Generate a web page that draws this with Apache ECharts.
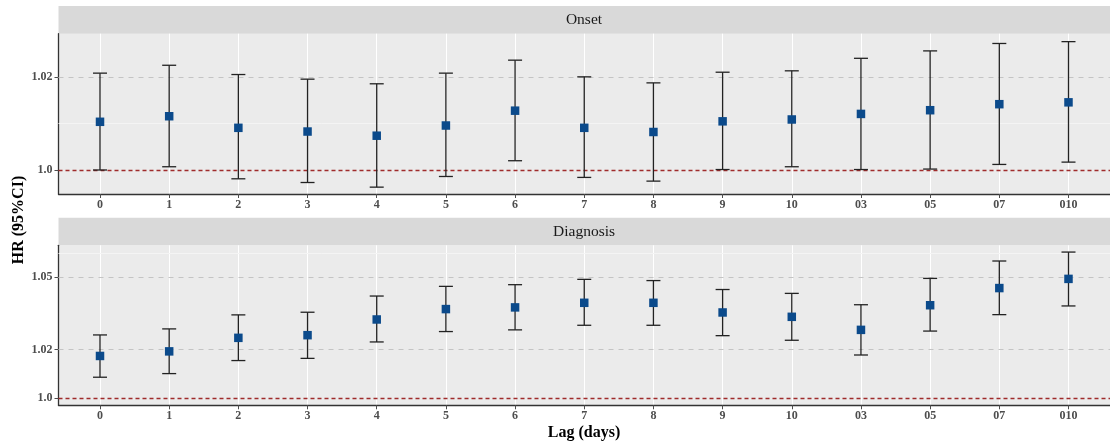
<!DOCTYPE html>
<html>
<head>
<meta charset="utf-8">
<script src="https://cdn.jsdelivr.net/npm/echarts@6/dist/echarts.min.js"></script>
<style>
html,body{margin:0;padding:0;background:#fff;}
#chart{width:1110px;height:447px;}
</style>
</head>
<body>
<div id="chart"></div>
<script>
// ---- data ----
var categories = ['0','1','2','3','4','5','6','7','8','9','10','03','05','07','010'];

var onsetHR = [1.0104, 1.0116, 1.0091, 1.0083, 1.0074, 1.0096, 1.0128, 1.0091, 1.0082, 1.0105, 1.0109, 1.0121, 1.0129, 1.0142, 1.0146];
var onsetLo = [1.0000, 1.0007, 0.9981, 0.9973, 0.9963, 0.9986, 1.0020, 0.9984, 0.9976, 1.0001, 1.0007, 1.0001, 1.0002, 1.0012, 1.0017];
var onsetHi = [1.0209, 1.0226, 1.0206, 1.0196, 1.0186, 1.0209, 1.0237, 1.0201, 1.0188, 1.0211, 1.0214, 1.0241, 1.0257, 1.0273, 1.0277];

var diagHR = [1.0174, 1.0193, 1.0249, 1.0260, 1.0325, 1.0368, 1.0375, 1.0394, 1.0394, 1.0354, 1.0336, 1.0282, 1.0384, 1.0455, 1.0493];
var diagLo = [1.0086, 1.0101, 1.0155, 1.0164, 1.0232, 1.0275, 1.0282, 1.0301, 1.0301, 1.0258, 1.0239, 1.0178, 1.0277, 1.0345, 1.0381];
var diagHi = [1.0261, 1.0286, 1.0344, 1.0355, 1.0422, 1.0462, 1.0469, 1.0491, 1.0486, 1.0449, 1.0433, 1.0386, 1.0495, 1.0567, 1.0604];

var onsetTicks = [1.0, 1.02];
var onsetTickLabels = ['1.0', '1.02'];
var diagTicks = [1.0, 1.02, 1.05];
var diagTickLabels = ['1.0', '1.02', '1.05'];

var panelTitles = ['Onset', 'Diagnosis'];
var refValue = 1.0;
var onsetMinor = [1.01];
var diagMinor = [1.0605];

// ---- chart ----
var FONT = '"Liberation Serif", "Times New Roman", serif';
var chart = echarts.init(document.getElementById('chart'), null, {renderer: 'canvas'});

var idx = categories.map(function (c, i) { return i; });

function xAxisDef(gridIndex) {
  return {
    type: 'value', gridIndex: gridIndex, min: -0.6, max: 14.6,
    axisLine: {show: true, onZero: false, lineStyle: {color: '#333333', width: 1.3}},
    axisTick: {show: true, length: 4, customValues: idx, lineStyle: {color: '#4d4d4d', width: 1}},
    axisLabel: {
      customValues: idx, margin: 5, fontFamily: FONT, fontWeight: 'bold', fontSize: 12, color: '#4d4d4d',
      formatter: function (v) { return categories[Math.round(v)]; }
    },
    splitLine: {show: true, lineStyle: {color: '#ffffff', width: 1.1}}
  };
}
function yAxisDef(gridIndex, min, max, ticks, labels) {
  return {
    type: 'value', gridIndex: gridIndex, min: min, max: max,
    axisLine: {show: true, onZero: false, lineStyle: {color: '#333333', width: 1.3}},
    axisTick: {show: true, length: 4, customValues: ticks, lineStyle: {color: '#4d4d4d', width: 1}},
    axisLabel: {
      customValues: ticks, margin: 6, fontFamily: FONT, fontWeight: 'bold', fontSize: 12, color: '#4d4d4d',
      formatter: function (v) {
        for (var k = 0; k < ticks.length; k++) { if (Math.abs(ticks[k] - v) < 1e-9) return labels[k]; }
        return '';
      }
    },
    splitLine: {show: false}
  };
}

function errSeries(axisIdx, lo, hi) {
  return {
    type: 'custom', xAxisIndex: axisIdx, yAxisIndex: axisIdx, z: 3,
    data: idx.map(function (i) { return [i, lo[i], hi[i]]; }),
    encode: {x: 0, y: [1, 2]},
    renderItem: function (params, api) {
      var x = api.value(0);
      var p1 = api.coord([x, api.value(1)]);
      var p2 = api.coord([x, api.value(2)]);
      var hw = 7;
      var st = {stroke: '#222222', lineWidth: 1.3, fill: null};
      return {
        type: 'group',
        children: [
          {type: 'line', shape: {x1: p1[0], y1: p1[1], x2: p2[0], y2: p2[1]}, style: st},
          {type: 'line', shape: {x1: p1[0] - hw, y1: p1[1], x2: p1[0] + hw, y2: p1[1]}, style: st},
          {type: 'line', shape: {x1: p2[0] - hw, y1: p2[1], x2: p2[0] + hw, y2: p2[1]}, style: st}
        ]
      };
    }
  };
}
function pointSeries(axisIdx, hr) {
  return {
    type: 'scatter', xAxisIndex: axisIdx, yAxisIndex: axisIdx, z: 4,
    symbol: 'rect', symbolSize: 8.5,
    itemStyle: {color: '#0b4a8b', opacity: 1},
    data: idx.map(function (i) { return [i, hr[i]]; })
  };
}
function refSeries(axisIdx, ticks, minor) {
  var d = [];
  minor.forEach(function (m) { d.push({yAxis: m, lineStyle: {color: '#f4f4f4', width: 1, type: 'solid'}}); });
  ticks.forEach(function (t) {
    if (t !== refValue) d.push({yAxis: t, lineStyle: {color: '#c4c4c4', width: 1, type: [5, 5]}});
  });
  d.push({yAxis: refValue, lineStyle: {color: '#9f2b2b', width: 1.4, type: [4, 3]}});
  return {
    type: 'line', xAxisIndex: axisIdx, yAxisIndex: axisIdx, z: 1,
    data: [], showSymbol: false,
    markLine: {silent: true, z: 1, symbol: ['none', 'none'], label: {show: false}, animation: false, data: d}
  };
}

var option = {
  animation: false,
  backgroundColor: '#ffffff',
  grid: [
    {left: 58.5, right: 0, top: 33.7, height: 160.3, show: true, backgroundColor: '#ebebeb', borderWidth: 0, containLabel: false},
    {left: 58.5, right: 0, top: 245.3, height: 160, show: true, backgroundColor: '#ebebeb', borderWidth: 0, containLabel: false}
  ],
  xAxis: [xAxisDef(0), xAxisDef(1)],
  yAxis: [
    yAxisDef(0, 0.99482, 1.02941, onsetTicks, onsetTickLabels),
    yAxisDef(1, 0.99698, 1.0632, diagTicks, diagTickLabels)
  ],
  series: [
    refSeries(0, onsetTicks, onsetMinor),
    errSeries(0, onsetLo, onsetHi),
    pointSeries(0, onsetHR),
    refSeries(1, diagTicks, diagMinor),
    errSeries(1, diagLo, diagHi),
    pointSeries(1, diagHR)
  ],
  graphic: [
    {type: 'rect', left: 58.5, top: 6, shape: {width: 1052, height: 27.7}, style: {fill: '#d9d9d9'}},
    {type: 'text', x: 584, y: 20, style: {text: panelTitles[0], font: '15.5px ' + FONT, fill: '#1a1a1a', textAlign: 'center', textVerticalAlign: 'middle'}},
    {type: 'rect', left: 58.5, top: 217.7, shape: {width: 1052, height: 27.6}, style: {fill: '#d9d9d9'}},
    {type: 'text', x: 584, y: 231.5, style: {text: panelTitles[1], font: '15.5px ' + FONT, fill: '#1a1a1a', textAlign: 'center', textVerticalAlign: 'middle'}},
    {type: 'text', x: 584, y: 432.5, style: {text: 'Lag (days)', font: 'bold 16px ' + FONT, fill: '#000000', textAlign: 'center', textVerticalAlign: 'middle'}},
    {type: 'text', x: 19, y: 220, rotation: Math.PI / 2, style: {text: 'HR (95%CI)', font: 'bold 16px ' + FONT, fill: '#000000', textAlign: 'center', textVerticalAlign: 'middle'}}
  ]
};
chart.setOption(option);
</script>
</body>
</html>
